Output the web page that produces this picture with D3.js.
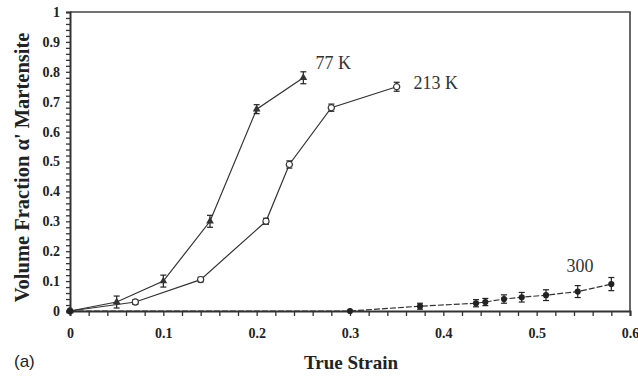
<!DOCTYPE html>
<html>
<head>
<meta charset="utf-8">
<script src="https://cdn.jsdelivr.net/npm/d3@7"></script>
<style>
    html, body { margin: 0; padding: 0; background: #fff; }
    #chart { width: 638px; height: 376px; }
</style>
</head>
<body>
<div id="chart"></div>
<script>
// 77 K
const strain77 = [0, 0.05, 0.10, 0.15, 0.20, 0.25];
const frac77   = [0, 0.03, 0.10, 0.30, 0.675, 0.78];
const err77    = [0.005, 0.02, 0.02, 0.02, 0.015, 0.02];

// 213 K
const strain213 = [0, 0.07, 0.14, 0.21, 0.235, 0.28, 0.35];
const frac213   = [0, 0.03, 0.105, 0.30, 0.49, 0.68, 0.75];
const err213    = [0.005, 0.008, 0.008, 0.01, 0.012, 0.012, 0.015];

// 300 K
const strain300 = [0, 0.30, 0.375, 0.435, 0.445, 0.465, 0.484, 0.51, 0.544, 0.58];
const frac300   = [0, 0, 0.016, 0.026, 0.030, 0.040, 0.046, 0.053, 0.065, 0.09];
const err300    = [0, 0.005, 0.01, 0.012, 0.012, 0.014, 0.016, 0.018, 0.02, 0.022];

const seriesLabels = ['77 K', '213 K', '300'];
const xTicks = d3.range(0, 0.6001, 0.02);
const yTicks = d3.range(0, 1.0001, 0.02);

document.addEventListener('DOMContentLoaded', () => {
    drawChart();
});

function drawChart() {
    const width = 638, height = 376;
    const margin = { top: 12, right: 8, bottom: 65, left: 70 };

    const svg = d3.select('#chart')
        .append('svg')
        .attr('width', width)
        .attr('height', height);

    const x = d3.scaleLinear().domain([0, 0.6]).range([margin.left, width - margin.right]);
    const y = d3.scaleLinear().domain([0, 1]).range([height - margin.bottom, margin.top]);

    const isMajor = v => Math.abs(v * 10 - Math.round(v * 10)) < 1e-6;
    const fmt = v => isMajor(v) ? String(+v.toFixed(1)) : '';

    // 프레임 (위, 오른쪽)
    svg.append('path')
        .attr('d', `M${x(0)},${y(1)}H${x(0.6)}V${y(0)}`)
        .attr('fill', 'none')
        .attr('stroke', '#444')
        .attr('stroke-width', 1.6);

    // x 축
    const xAxis = svg.append('g')
        .attr('transform', `translate(0,${y(0)})`)
        .call(d3.axisBottom(x).tickValues(xTicks).tickFormat(fmt).tickSize(5).tickPadding(12));

    // y 축
    const yAxis = svg.append('g')
        .attr('transform', `translate(${x(0)},0)`)
        .call(d3.axisLeft(y).tickValues(yTicks).tickFormat(fmt).tickSize(4).tickPadding(6));

    [xAxis, yAxis].forEach(g => {
        g.select('.domain').attr('stroke', '#333').attr('stroke-width', 2);
        g.selectAll('.tick line').attr('stroke', '#333').attr('stroke-width', 1.3);
        g.selectAll('.tick text')
            .attr('fill', '#222')
            .style('font-family', '"Liberation Serif", "DejaVu Serif", serif')
            .style('font-weight', 'bold')
            .style('font-size', '14px');
    });

    const series = [
        { xs: strain77, ys: frac77, es: err77, marker: 'triangle' },
        { xs: strain213, ys: frac213, es: err213, marker: 'open' },
        { xs: strain300, ys: frac300, es: err300, marker: 'dot' }
    ];

    const line = d3.line().x(d => x(d[0])).y(d => y(d[1]));

    series.forEach((s, i) => {
        const pts = s.xs.map((v, k) => [v, s.ys[k], s.es[k]]);

        svg.append('path')
            .datum(pts)
            .attr('d', line)
            .attr('fill', 'none')
            .attr('stroke', '#333')
            .attr('stroke-width', 1.2)
            .attr('stroke-dasharray', i === 2 ? '6,2' : null);

        // 에러 바
        const eb = svg.append('g').selectAll('g')
            .data(pts.filter(p => p[2] > 0.006))
            .enter()
            .append('g')
            .attr('stroke', '#222')
            .attr('stroke-width', 1.2);
        eb.append('line')
            .attr('x1', d => x(d[0])).attr('x2', d => x(d[0]))
            .attr('y1', d => y(d[1] - d[2])).attr('y2', d => y(d[1] + d[2]));
        eb.append('line')
            .attr('x1', d => x(d[0]) - 3).attr('x2', d => x(d[0]) + 3)
            .attr('y1', d => y(d[1] + d[2])).attr('y2', d => y(d[1] + d[2]));
        eb.append('line')
            .attr('x1', d => x(d[0]) - 3).attr('x2', d => x(d[0]) + 3)
            .attr('y1', d => y(d[1] - d[2])).attr('y2', d => y(d[1] - d[2]));

        // 마커
        const m = svg.append('g').selectAll('path')
            .data(pts)
            .enter()
            .append('path')
            .attr('transform', d => `translate(${x(d[0])},${y(d[1])})`);
        if (s.marker === 'triangle') {
            m.attr('d', d3.symbol(d3.symbolTriangle, 26)).attr('fill', '#333');
        } else if (s.marker === 'open') {
            m.attr('d', d3.symbol(d3.symbolCircle, 30)).attr('fill', '#fff')
                .attr('stroke', '#333').attr('stroke-width', 1.2);
        } else {
            m.attr('d', d3.symbol(d3.symbolCircle, 30)).attr('fill', '#222');
        }
    });

    // 시리즈 레이블
    const labelPos = [[0.263, 0.81], [0.368, 0.742], [0.532, 0.13]];
    svg.selectAll('.series-label')
        .data(seriesLabels)
        .enter()
        .append('text')
        .attr('class', 'series-label')
        .attr('x', (d, i) => x(labelPos[i][0]))
        .attr('y', (d, i) => y(labelPos[i][1]))
        .attr('fill', '#333')
        .style('font-family', '"Liberation Serif", serif')
        .style('font-size', '18px')
        .text(d => d);

    // 축 제목
    svg.append('text')
        .attr('x', 351)
        .attr('y', 369)
        .attr('text-anchor', 'middle')
        .attr('fill', '#222')
        .style('font-family', '"Liberation Serif", serif')
        .style('font-weight', 'bold')
        .style('font-size', '19px')
        .text('True Strain');

    svg.append('text')
        .attr('transform', `translate(29,${y(0.48)}) rotate(-90)`)
        .attr('text-anchor', 'middle')
        .attr('fill', '#222')
        .style('font-family', '"Liberation Serif", serif')
        .style('font-weight', 'bold')
        .style('font-size', '20.5px')
        .text("Volume Fraction α' Martensite");

    svg.append('text')
        .attr('x', 14)
        .attr('y', 367)
        .attr('fill', '#222')
        .style('font-family', '"Liberation Sans", Arial, sans-serif')
        .style('font-size', '17px')
        .text('(a)');
}
</script>
</body>
</html>
